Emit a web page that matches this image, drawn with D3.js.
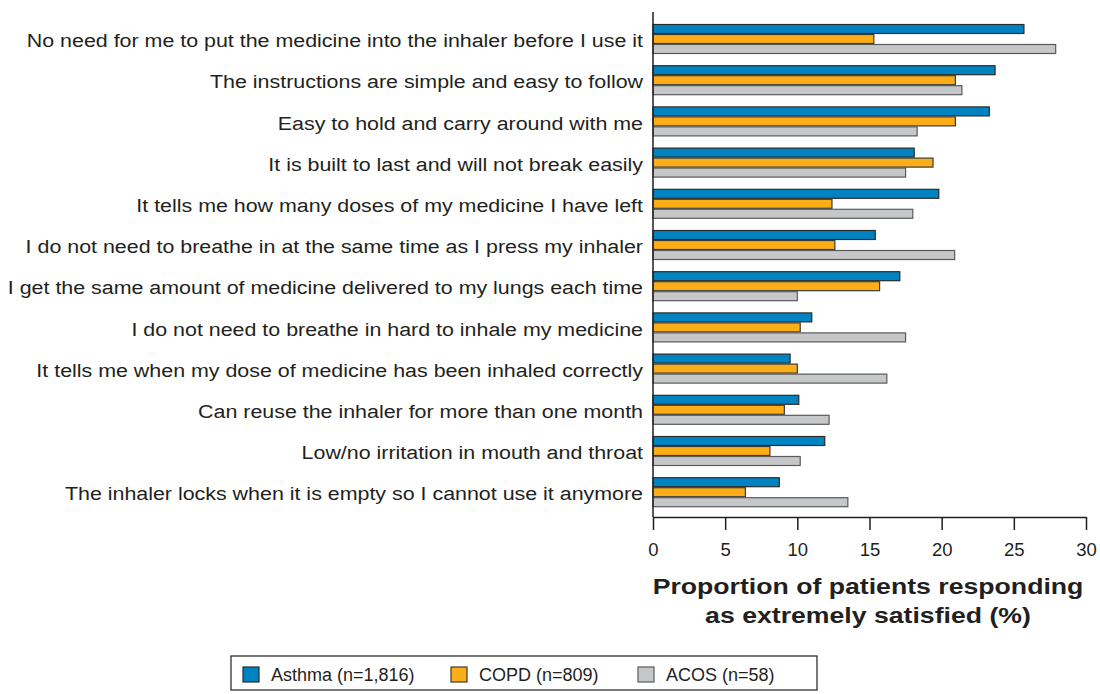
<!DOCTYPE html>
<html lang="en">
<head>
  <meta charset="UTF-8">
  <title>Inhaler satisfaction</title>
  <style>
    body { margin: 0; background: #fff; font-family: "Liberation Sans", Arial, sans-serif; }
    svg { display: block; }
    .label { font-size: 18px; fill: #231f20; }
    .tick text { font-size: 18.5px; fill: #231f20; font-family: "Liberation Sans", Arial, sans-serif; }
    .title { font-size: 21.5px; font-weight: bold; fill: #231f20; }
    .legend text { font-size: 18px; fill: #231f20; }
  </style>
</head>
<body>
  <svg width="1100" height="694"></svg>

  <script src="https://cdn.jsdelivr.net/npm/d3@7"></script>
  <script>
    const categories = [
      "No need for me to put the medicine into the inhaler before I use it",
      "The instructions are simple and easy to follow",
      "Easy to hold and carry around with me",
      "It is built to last and will not break easily",
      "It tells me how many doses of my medicine I have left",
      "I do not need to breathe in at the same time as I press my inhaler",
      "I get the same amount of medicine delivered to my lungs each time",
      "I do not need to breathe in hard to inhale my medicine",
      "It tells me when my dose of medicine has been inhaled correctly",
      "Can reuse the inhaler for more than one month",
      "Low/no irritation in mouth and throat",
      "The inhaler locks when it is empty so I cannot use it anymore"
    ];
    const seriesNames = ["Asthma (n=1,816)", "COPD (n=809)", "ACOS (n=58)"];
    const asthma = [25.7, 23.7, 23.3, 18.1, 19.8, 15.4, 17.1, 11.0, 9.5, 10.1, 11.9, 8.75];
    const copd   = [15.3, 20.95, 20.95, 19.4, 12.4, 12.6, 15.7, 10.2, 10.0, 9.1, 8.1, 6.4];
    const acos   = [27.9, 21.4, 18.3, 17.5, 18.0, 20.9, 10.0, 17.5, 16.2, 12.2, 10.2, 13.5];
    const xTicks = [0, 5, 10, 15, 20, 25, 30];

    const fills = ["#0084c1", "#fbae17", "#c6c7c9"];
    const strokes = ["#2b2b2b", "#3a3a3a", "#5a5a5a"];
    const values = [asthma, copd, acos];

    const svg = d3.select("svg");

    const x = d3.scaleLinear().domain([0, 30]).range([653, 1086]);
    const y = d3.scaleBand().domain(categories).range([18.4, 512.8]).paddingInner(0.272).paddingOuter(0.136);
    const ySub = d3.scaleBand().domain(d3.range(3)).range([0, y.bandwidth()]);

    const rows = categories.map((c, i) => ({ cat: c, vals: values.map(v => v[i]) }));

    const g = svg.append("g").selectAll("g")
      .data(rows)
      .join("g")
      .attr("transform", d => `translate(0,${y(d.cat)})`);

    g.selectAll("rect")
      .data(d => d.vals.map((v, k) => ({ v, k })))
      .join("rect")
      .attr("x", x(0))
      .attr("y", d => ySub(d.k) + 0.5)
      .attr("width", d => x(d.v) - x(0))
      .attr("height", ySub.bandwidth() - 1)
      .attr("fill", d => fills[d.k])
      .attr("stroke", d => strokes[d.k])
      .attr("stroke-width", 1.2);

    // category labels (the source text is drawn a bit wide)
    svg.append("g").selectAll("text")
      .data(categories)
      .join("text")
      .attr("class", "label")
      .attr("transform", d => `translate(643,${y(d) + y.bandwidth() / 2}) scale(1.19,1)`)
      .attr("dy", "0.45em")
      .attr("text-anchor", "end")
      .text(d => d);

    // y axis line
    svg.append("line")
      .attr("x1", x(0)).attr("x2", x(0))
      .attr("y1", 12).attr("y2", 517)
      .attr("stroke", "#231f20").attr("stroke-width", 1.5);

    // x axis
    const xAxis = svg.append("g")
      .attr("transform", "translate(0,517)")
      .call(d3.axisBottom(x).tickValues(xTicks).tickSize(13).tickSizeOuter(0).tickPadding(13));
    xAxis.select(".domain").attr("stroke", "#231f20").attr("stroke-width", 1.5);
    xAxis.selectAll(".tick line").attr("stroke", "#231f20").attr("stroke-width", 1.5);

    svg.append("text").attr("class", "title")
      .attr("transform", "translate(868,594) scale(1.24,1)").attr("text-anchor", "middle")
      .text("Proportion of patients responding");
    svg.append("text").attr("class", "title")
      .attr("transform", "translate(868,623) scale(1.24,1)").attr("text-anchor", "middle")
      .text("as extremely satisfied (%)");

    // legend
    const legend = svg.append("g").attr("class", "legend");
    legend.append("rect")
      .attr("x", 231).attr("y", 656).attr("width", 586).attr("height", 34)
      .attr("fill", "none").attr("stroke", "#231f20").attr("stroke-width", 1.2);
    const legX = [243, 451, 638];
    const item = legend.selectAll("g.item")
      .data(seriesNames)
      .join("g")
      .attr("class", "item")
      .attr("transform", (d, i) => `translate(${legX[i]},667)`);
    item.append("rect")
      .attr("width", 16).attr("height", 15)
      .attr("fill", (d, i) => fills[i])
      .attr("stroke", (d, i) => strokes[i]).attr("stroke-width", 1.2);
    item.append("text")
      .attr("x", 28).attr("y", 8).attr("dy", "0.35em")
      .text(d => d);
  </script>
</body>
</html>
